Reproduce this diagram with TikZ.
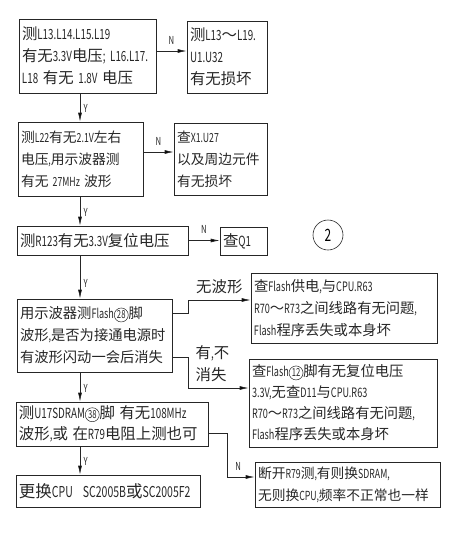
\documentclass[tikz,border=0pt]{standalone}
\usepackage{fontspec}
\setmainfont{Noto Sans CJK SC}
\newfontfamily\cjkf{Noto Sans CJK SC}[Scale=1.1]
\newfontfamily\latf{Noto Sans CJK SC}[FakeStretch=0.7]
\usetikzlibrary{arrows.meta,positioning,calc}
\newcommand{\cnum}[1]{\tikz[baseline=(cn.base)]\node[draw,circle,inner sep=0.5pt,minimum size=14pt,
  text width={},align=center,line width=0.5pt,font=\fontsize{11}{11}\selectfont] (cn) {#1};}
% own class for CJK characters, so Latin runs get the narrow face
\newXeTeXintercharclass\cjkcls
\makeatletter
\count@="3000 \loop\XeTeXcharclass\count@=\cjkcls\advance\count@ by 1 \ifnum\count@<"A000 \repeat
\count@="FF00 \loop\XeTeXcharclass\count@=\cjkcls\advance\count@ by 1 \ifnum\count@<"FFF0 \repeat
\makeatother

\begin{document}
\XeTeXinterchartokenstate=1
\XeTeXinterchartoks 0 \cjkcls = {\cjkf}
\XeTeXinterchartoks \cjkcls 0 = {\latf}
\XeTeXinterchartoks 4095 0 = {\latf}
\XeTeXinterchartoks 4095 \cjkcls = {\cjkf}
\begin{tikzpicture}[x=1pt,y=-1pt,
  box/.style={draw=black!85, line width=0.7pt, inner xsep=3pt, inner ysep=3pt,
              align=left, font=\fontsize{14}{22}\selectfont, text=black!85},
  yn/.style={font=\fontsize{11}{11}\selectfont, text=black!85},
  lbl/.style={font=\fontsize{14}{22}\selectfont, text=black!85, align=left},
  arr/.style={-{Latex[length=9pt,width=4pt]}, line width=0.7pt, draw=black!85}
]
\useasboundingbox (0,0) rectangle (450,550);
\coordinate (spine) at (80,0);

% main column
\node[box, text width=131pt, minimum height=74pt] (chk1) at (87.5,56)
  {测L13.L14.L15.L19\\有无3.3V电压; L16.L17.\\L18 有无 1.8V 电压};
\node[box, text width=119pt, minimum height=74pt, font=\fontsize{12.5}{22}\selectfont] (chk2) at (80.5,159)
  {测L22有无2.1V左右\\电压,用示波器测\\有无 27MHz 波形};
\node[box, text width=165pt, minimum height=29pt] (chk3) at (102.5,240.5)
  {测R123有无3.3V复位电压};
\node[box, text width=149pt, minimum height=73pt, font=\fontsize{13}{22}\selectfont] (chk4) at (94.5,335.5)
  {用示波器测Flash\cnum{28}脚\\波形,是否为接通电源时\\有波形闪动一会后消失};
\node[box, text width=186pt, minimum height=44pt, font=\fontsize{14}{21}\selectfont] (chk5) at (112,424)
  {测U17SDRAM\cnum{38}脚 有无108MHz\\波形,或 在R79电阻上测也可};
\node[box, text width=178pt, minimum height=32pt, font=\fontsize{15}{22}\selectfont] (swap) at (108,491)
  {更换CPU\ \ SC2005B或SC2005F2};

% right column
\node[box, text width=74pt, minimum height=72pt] (fix1) at (227,57)
  {测L13～L19.\\U1.U32\\有无损坏};
\node[box, text width=87pt, minimum height=72pt, font=\fontsize{12.5}{22}\selectfont] (fix2) at (220.5,159)
  {查X1.U27\\以及周边元件\\有无损坏};
\node[box, text width=41pt, minimum height=28pt] (fix3) at (243.5,241)
  {查Q1};
\node[box, text width=180pt, minimum height=70pt, font=\fontsize{13}{22}\selectfont] (fix4a) at (344,308)
  {查Flash供电,与CPU.R63\\R70～R73之间线路有无问题,\\Flash程序丢失或本身坏};
\node[box, text width=182pt, minimum height=88pt, font=\fontsize{13}{21}\selectfont] (fix4b) at (343,403)
  {查Flash\cnum{12}脚有无复位电压\\3.3V,无查D11与CPU.R63\\R70～R73之间线路有无问题,\\Flash程序丢失或本身坏};
\node[box, text width=179pt, minimum height=45pt, font=\fontsize{12.5}{22}\selectfont] (fix5) at (347.5,484.5)
  {断开R79测,有则换SDRAM,\\无则换CPU,频率不正常也一样};

\node[draw=black!85, line width=0.6pt, circle, minimum size=30pt, font=\fontsize{17}{17}\selectfont] (tag) at (328,235) {2};

% Y arrows
\draw[arr] (chk1.south -| spine) -- node[yn, right, pos=0.55]{Y} (chk2.north -| spine);
\draw[arr] (chk2.south -| spine) -- node[yn, right, pos=0.55]{Y} (chk3.north -| spine);
\draw[arr] (chk3.south -| spine) -- node[yn, right, pos=0.65]{Y} (chk4.north -| spine);
\draw[arr] (chk4.south -| spine) -- node[yn, right, pos=0.55]{Y} (chk5.north -| spine);
\draw[arr] (chk5.south -| spine) -- node[yn, right, pos=0.55]{Y} (swap.north -| spine);

% N arrows
\draw[arr] ([yshift=5pt]chk1.east) -- node[yn, above=3pt]{N} ([yshift=5pt]chk1.east -| fix1.west);
\draw[arr] ([yshift=7pt]chk2.east) -- node[yn, above=3pt]{N} ([yshift=7pt]chk2.east -| fix2.west);
\draw[arr] (chk3.east) -- node[yn, above=3pt]{N} (chk3.east -| fix3.west);

% flash branches
\coordinate (brA) at (188,300);
\coordinate (brB) at (188,388);
\coordinate (brC) at (227,477);
\draw[arr] ([yshift=22pt]chk4.east) -| (brA) -- node[lbl, above=2pt]{无波形} (brA -| fix4a.west);
\draw[arr] ([yshift=-22pt]chk4.east) -| node[lbl, anchor=west, xshift=4pt, yshift=-6pt, pos=0.5]{有,不\\消失} (brB) -- (brB -| fix4b.west);
\draw[arr] ([yshift=-9pt]chk5.east) -| (brC) -- node[yn, above=3pt, pos=0.4]{N} (brC -| fix5.west);
\end{tikzpicture}
\end{document}
